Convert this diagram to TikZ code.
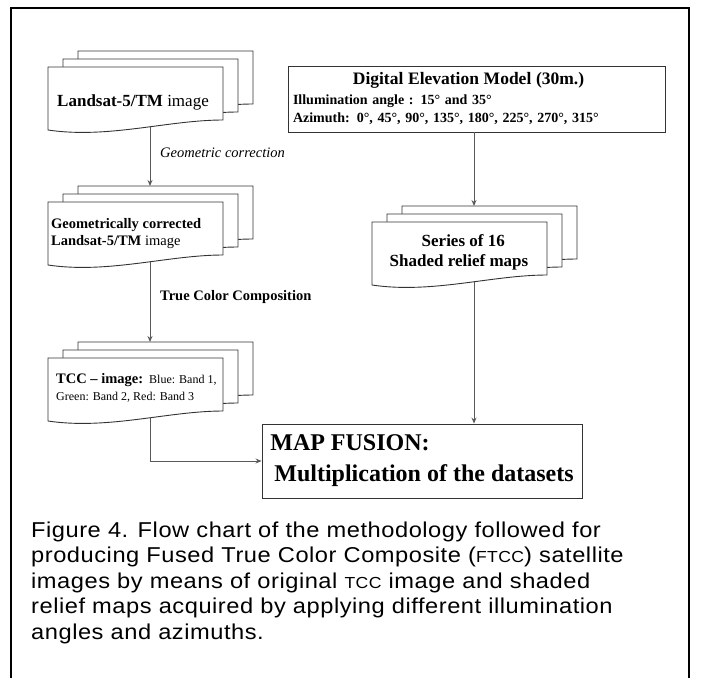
\documentclass[tikz,border=0pt]{standalone}
\usepackage{fontspec}
\setmainfont{Liberation Serif}
\setsansfont{Liberation Sans}
\newfontfamily\captionfont{Liberation Sans}[FakeStretch=1.1, LetterSpace=2.5]
\usetikzlibrary{calc,arrows.meta}

\newcommand{\smallcap}[1]{{\fontsize{16}{16}\selectfont #1}}

\begin{document}
\begin{tikzpicture}[x=1pt, y=-1pt, >={Stealth[length=6pt,width=5pt]},
        sheet/.style={draw=black!80, fill=white, line width=0.9pt},
        flow/.style={->, draw=black!65, line width=0.9pt},
        box/.style={draw=black!80, fill=white, line width=0.9pt},
        steplabel/.style={anchor=west, inner sep=0pt}]
        % --- 1. Page and frame ---
        \useasboundingbox (0,0) rectangle (703,678);
        \draw[line width=1.1pt] (11,678) -- (11,8) -- (689,8) -- (689,678);
        % --- 2. Stacks of sheets ---
        \def\sheetW{175}
        \foreach \name/\X/\Y in {landsat/48/67, geo/48/202, tcc/48/358, shaded/372/222} {
            \foreach \k in {2,1,0} {
                \draw[sheet, shift={({\X+15*\k},{\Y-8*\k})}]
                    (0,0) -- (\sheetW,0) -- (\sheetW,53)
                    .. controls (120,53) and (60,72) .. (0,63) -- cycle;
            }
            \coordinate (\name-in) at ({\X+102},{\Y-16});
            \coordinate (\name-out) at ({\X+102},{\Y+59.5});
        }
        \node[font=\fontsize{17}{20}\selectfont] (landsat) at (133,102)
            {\textbf{Landsat-5/TM} image};
        \node[anchor=west, inner sep=0pt, align=left, font=\fontsize{14.5}{17}\selectfont] (geo) at (51,234)
            {\textbf{Geometrically corrected}\\ \textbf{Landsat-5/TM} image};
        \node[anchor=west, inner sep=0pt, align=left, font=\fontsize{12}{17}\selectfont] (tcc) at (56,388)
            {{\fontsize{14.5}{17}\selectfont\textbf{TCC -- image:}}\ \ Blue: Band 1,\\ Green: Band 2, Red: Band 3};
        \node[align=center, font=\bfseries\fontsize{17}{20}\selectfont] (shaded) at (459,252)
            {\ \ Series of 16\\ Shaded relief maps};
        % --- 3. Boxes ---
        \node[box, minimum width=377pt, minimum height=66pt, text width=367pt, inner sep=5pt,
              align=left, font=\bfseries\fontsize{14}{18.5}\selectfont] (dem) at (476.5,99)
            {\makebox[\linewidth]{\fontsize{17.5}{20}\selectfont Digital Elevation Model (30m.)\hspace{16pt}}\\[1pt]
             Illumination angle : 15° and 35°\\
             Azimuth: 0°, 45°, 90°, 135°, 180°, 225°, 270°, 315°};
        \node[box, minimum width=320pt, minimum height=74pt, inner sep=7pt,
              align=left, font=\bfseries\fontsize{24}{31}\selectfont] (fusion) at (422,461)
            {MAP FUSION:\\ \hspace*{4pt}Multiplication of the datasets};
        % --- 4. Connectors ---
        \draw[flow] (landsat-out) -- (geo-in);
        \node[steplabel, font=\itshape\fontsize{14.5}{17}\selectfont] (geolabel) at (160,153) {Geometric correction};
        \draw[flow] (geo-out) -- (tcc-in);
        \node[steplabel, font=\bfseries\fontsize{14.5}{17}\selectfont] (tcclabel) at (160,297) {True Color Composition};
        \draw[flow] (dem.south -| shaded-in) -- (shaded-in);
        \draw[flow] (shaded-out) -- (shaded-out |- fusion.north);
        \draw[flow] (tcc-out) |- (fusion.west);
        % --- 5. Caption ---
        \node[anchor=base west, inner sep=0pt, align=left, font=\captionfont\fontsize{21.5}{25.5}\selectfont] (caption) at (31,639)
            {Figure 4. Flow chart of the methodology followed for\\
             producing Fused True Color Composite (\smallcap{FTCC}) satellite\\
             images by means of original \smallcap{TCC} image and shaded\\
             relief maps acquired by applying different illumination\\
             angles and azimuths.};
\end{tikzpicture}
\end{document}
